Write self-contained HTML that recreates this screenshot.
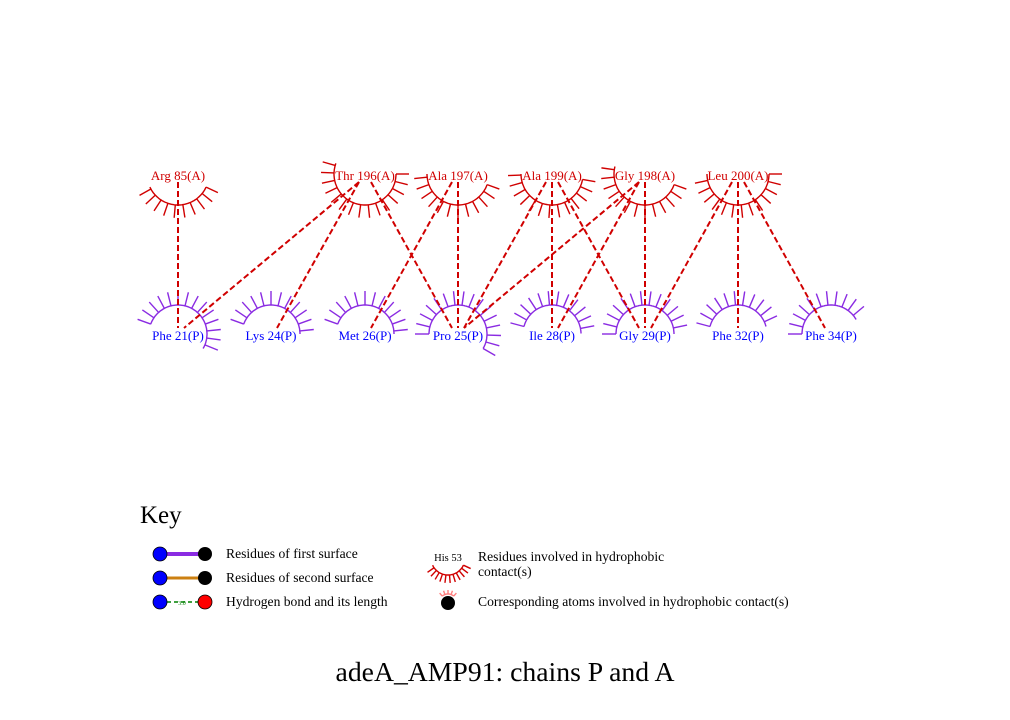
<!DOCTYPE html>
<html><head><meta charset="utf-8"><style>
html,body{margin:0;padding:0;background:#fff}
svg{display:block;font-family:"Liberation Serif",serif}
</style></head><body>
<svg width="1010" height="720" viewBox="0 0 1010 720">
<g id="arcs"></g><g id="links"></g><g id="labels"></g>
<g>
<text x="140" y="523" font-size="25">Key</text>
<line x1="160" y1="554" x2="205" y2="554" stroke="#8a2be2" stroke-width="4"/>
<circle cx="160" cy="554" r="7" fill="#0000ff" stroke="#000" stroke-width="0.8"/>
<circle cx="205" cy="554" r="7" fill="#000"/>
<text x="226" y="558" font-size="13.6">Residues of first surface</text>
<line x1="160" y1="578" x2="205" y2="578" stroke="#cc8011" stroke-width="3"/>
<circle cx="160" cy="578" r="7" fill="#0000ff" stroke="#000" stroke-width="0.8"/>
<circle cx="205" cy="578" r="7" fill="#000"/>
<text x="226" y="582" font-size="13.6">Residues of second surface</text>
<line x1="167" y1="602" x2="198" y2="602" stroke="#008000" stroke-width="1.5" stroke-dasharray="4,3"/>
<text x="182" y="605" font-size="6" fill="#008000" text-anchor="middle">3.0</text>
<circle cx="160" cy="602" r="7" fill="#0000ff" stroke="#000" stroke-width="0.8"/>
<circle cx="205" cy="602" r="7" fill="#ff0000" stroke="#000" stroke-width="0.8"/>
<text x="226" y="606" font-size="13.6">Hydrogen bond and its length</text>
<text x="448" y="561" font-size="10.5" text-anchor="middle">His 53</text>
<g id="keyarc"></g>
<text x="478" y="561" font-size="13.6">Residues involved in hydrophobic</text>
<text x="478" y="576" font-size="13.6">contact(s)</text>
<circle cx="448" cy="603" r="7" fill="#000"/>
<text x="478" y="606" font-size="13.6">Corresponding atoms involved in hydrophobic contact(s)</text>
</g>
<text x="505" y="681" font-size="27.7" text-anchor="middle">adeA_AMP91: chains P and A</text>
</svg>
<script>
const topNames=["Arg 85(A)","Thr 196(A)","Ala 197(A)","Ala 199(A)","Gly 198(A)","Leu 200(A)"];
const topX=[178,365,458,552,645,738];
const topArc=[[25,155],[0,200],[20,180],[10,180],[20,195],[0,180]];
const botNames=["Phe 21(P)","Lys 24(P)","Met 26(P)","Pro 25(P)","Ile 28(P)","Gly 29(P)","Phe 32(P)","Phe 34(P)"];
const botX=[178,271,365,458,552,645,738,831];
const botArc=[[200,390],[200,360],[200,360],[180,390],[195,360],[180,360],[195,345],[180,330]];
const contacts=[[0,0],[1,0],[1,1],[1,3],[2,2],[2,3],[3,3],[3,4],[3,5],[4,3],[4,4],[4,5],[5,5],[5,6],[5,7]];
const NS="http://www.w3.org/2000/svg";
function mk(tag,attrs,parent){const e=document.createElementNS(NS,tag);for(const k in attrs)e.setAttribute(k,attrs[k]);parent.appendChild(e);return e;}
function arc(parent,cx,cy,r,a0,a1,col,tl,step){
  const g=mk('g',{},parent);
  let d='';
  for(let a=a0;a<=a1+0.01;a+=2){const t=a*Math.PI/180;d+=(d?'L':'M')+(cx+r*Math.cos(t)).toFixed(1)+','+(cy+r*Math.sin(t)).toFixed(1);}
  mk('path',{d:d,fill:'none',stroke:col,'stroke-width':1.4},g);
  for(let a=a0;a<=a1+0.01;a+=step){const t=a*Math.PI/180;
    mk('line',{x1:cx+r*Math.cos(t),y1:cy+r*Math.sin(t),x2:cx+(r+tl)*Math.cos(t),y2:cy+(r+tl)*Math.sin(t),stroke:col,'stroke-width':1.4},g);}
  return g;
}
const arcsG=document.getElementById('arcs'),linksG=document.getElementById('links'),labG=document.getElementById('labels');
const TY=176,BY=334;
topNames.forEach((n,i)=>{
  const g=arc(arcsG,topX[i],TY-2,31,topArc[i][0],topArc[i][1],'#d00000',13,14);
  
  
  const t=mk('text',{x:topX[i],y:TY+4,'font-size':13,fill:'#d00000','text-anchor':'middle'},labG);
  t.textContent=n;
  
  
});
botNames.forEach((n,i)=>{
  const g=arc(arcsG,botX[i],BY,29,botArc[i][0],botArc[i][1],'#8a2be2',14,14);
  
  
  const t=mk('text',{x:botX[i],y:BY+6,'font-size':13,fill:'#0000ff','text-anchor':'middle'},labG);
  t.textContent=n;
  
  
});
contacts.forEach(c=>{
  const x1=topX[c[0]],x2=botX[c[1]];
  const s=Math.sign(x2-x1);
  const l=mk('line',{x1:x1+s*6,y1:182,x2:x2-s*6,y2:328,stroke:'#d00000','stroke-width':2,'stroke-dasharray':'6,3'},linksG);
  
  
});
arc(document.getElementById('keyarc'),448,558,17,25,155,'#d00000',8,12);
arc(document.getElementById('keyarc'),448,603,9,230,310,'#ff8080',4,20);
</script>
</body></html>
